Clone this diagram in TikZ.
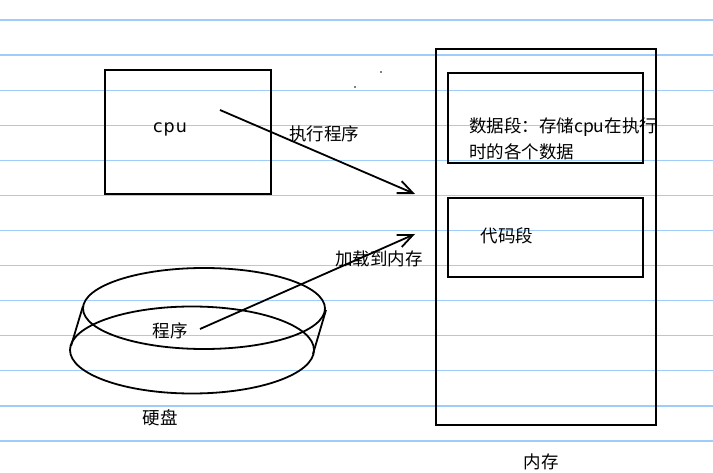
\documentclass[tikz,border=0pt]{standalone}
\usepackage{fontspec}
\setmainfont{Noto Sans CJK SC}
\newfontfamily\latinsans{DejaVu Sans}
\usetikzlibrary{arrows.meta}
\definecolor{ruled}{RGB}{160,204,250}
\tikzset{
  ink/.style={draw=black, line width=1.8pt},
  boxnode/.style={ink, rectangle, inner sep=0pt, anchor=north west},
  lbl/.style={font=\fontsize{17.5}{26}\selectfont, inner sep=0pt},
  arr/.style={ink, -{Straight Barb[length=15pt,width=13pt,line width=1.8pt]}},
  rule/.style={draw=ruled, line width=1.3pt}
}
\begin{document}
\begin{tikzpicture}[x=1pt,y=-1pt]
\useasboundingbox (0,0) rectangle (713,473);
\fill[white] (0,0) rectangle (713,473);
% ruled lines
\foreach \k in {0,...,12} {
  \draw[rule] (0,{20+35.08*\k}) -- (713,{20+35.08*\k});
}
% cpu box
\node[boxnode, minimum width=166pt, minimum height=124pt] (cpu) at (104,69) {};
\node[lbl, font=\latinsans\fontsize{17.5}{26}\selectfont, anchor=base] (cputxt) at (170,133) {c\kern1pt p\kern1pt u};
% memory
\node[boxnode, minimum width=220pt, minimum height=376pt] (mem) at (435,48) {};
\node[boxnode, minimum width=195pt, minimum height=90pt] (data) at (447,72) {};
\node[boxnode, minimum width=195pt, minimum height=79pt] (code) at (447,197) {};
\node[lbl, anchor=west, align=left] (datatxt) at (469,139) {数据段：存储cpu在执行\\时的各个数据};
\node[lbl] (codetxt) at (507,236) {代码段};
\node[lbl] (memtxt) at (541,462) {内存};
% disk
\draw[ink] (204,308.5) ellipse [x radius=121, y radius=40.5];
\draw[ink] (192,350) ellipse [x radius=122, y radius=43.5];
\draw[ink] (83,306) -- (71,346);
\draw[ink] (326,310) -- (313,354);
\node[lbl] (prog) at (170,331) {程序};
\node[lbl] (disk) at (160,418) {硬盘};
% arrows
\coordinate (a1s) at (220,110);
\coordinate (a1e) at (415,194);
\coordinate (a2s) at (200,329);
\coordinate (a2e) at (415,234);
\draw[arr] (a1s) -- (a1e);
\draw[arr] (a2s) -- (a2e);
\node[lbl] (exec) at (324,134) {执行程序};
\node[lbl] (load) at (379,259) {加载到内存};
% dots
\fill (381,72) circle (0.9);
\fill (355,87) circle (0.9);
\end{tikzpicture}
\end{document}
